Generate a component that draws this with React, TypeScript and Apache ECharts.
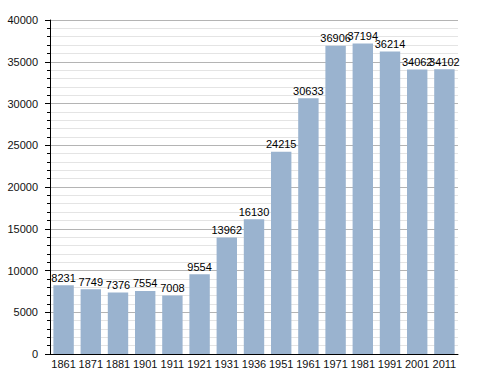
import React, { useEffect, useRef } from "react";
import * as echarts from "echarts";

const years = ["1861", "1871", "1881", "1901", "1911", "1921", "1931", "1936", "1951", "1961", "1971", "1981", "1991", "2001", "2011"];
const population = [8231, 7749, 7376, 7554, 7008, 9554, 13962, 16130, 24215, 30633, 36906, 37194, 36214, 34062, 34102];

export default function App() {
  const ref = useRef<HTMLDivElement>(null);
  useEffect(() => {
    const chart = echarts.init(ref.current!, null, { renderer: "svg" });
    chart.setOption({
      animation: false,
      grid: { left: 50, right: 30, top: 20, bottom: 19 },
      xAxis: {
        type: "category",
        data: years,
        axisLine: { lineStyle: { color: "#000", width: 1 } },
        axisTick: { show: false },
        axisLabel: { interval: 0, color: "#111", fontFamily: "Liberation Sans, Arial", fontSize: 11, margin: 4 },
      },
      yAxis: {
        type: "value",
        min: 0,
        max: 40000,
        interval: 5000,
        axisLine: { show: true, lineStyle: { color: "#000", width: 1 } },
        axisTick: { show: true, length: 5, lineStyle: { color: "#000" } },
        minorTick: { show: true, splitNumber: 5, length: 3, lineStyle: { color: "#000" } },
        splitLine: { show: true, lineStyle: { color: "#b4b4b4", width: 1 } },
        minorSplitLine: { show: true, lineStyle: { color: "#e4e4e4", width: 1 } },
        axisLabel: {
          color: "#111",
          fontFamily: "Liberation Sans, Arial",
          fontSize: 11,
          margin: 12,
          formatter: (v: number) => String(v),
        },
      },
      series: [
        {
          type: "bar",
          data: population,
          barCategoryGap: "25%",
          itemStyle: { color: "#9ab3cf" },
          label: {
            show: true,
            position: "top",
            distance: 2,
            color: "#000",
            fontFamily: "Liberation Sans, Arial",
            fontSize: 11,
          },
        },
      ],
    });
    return () => chart.dispose();
  }, []);
  return <div ref={ref} style={{ width: 488, height: 373, position: "absolute", left: 0, top: 0, background: "#fff" }} />;
}
